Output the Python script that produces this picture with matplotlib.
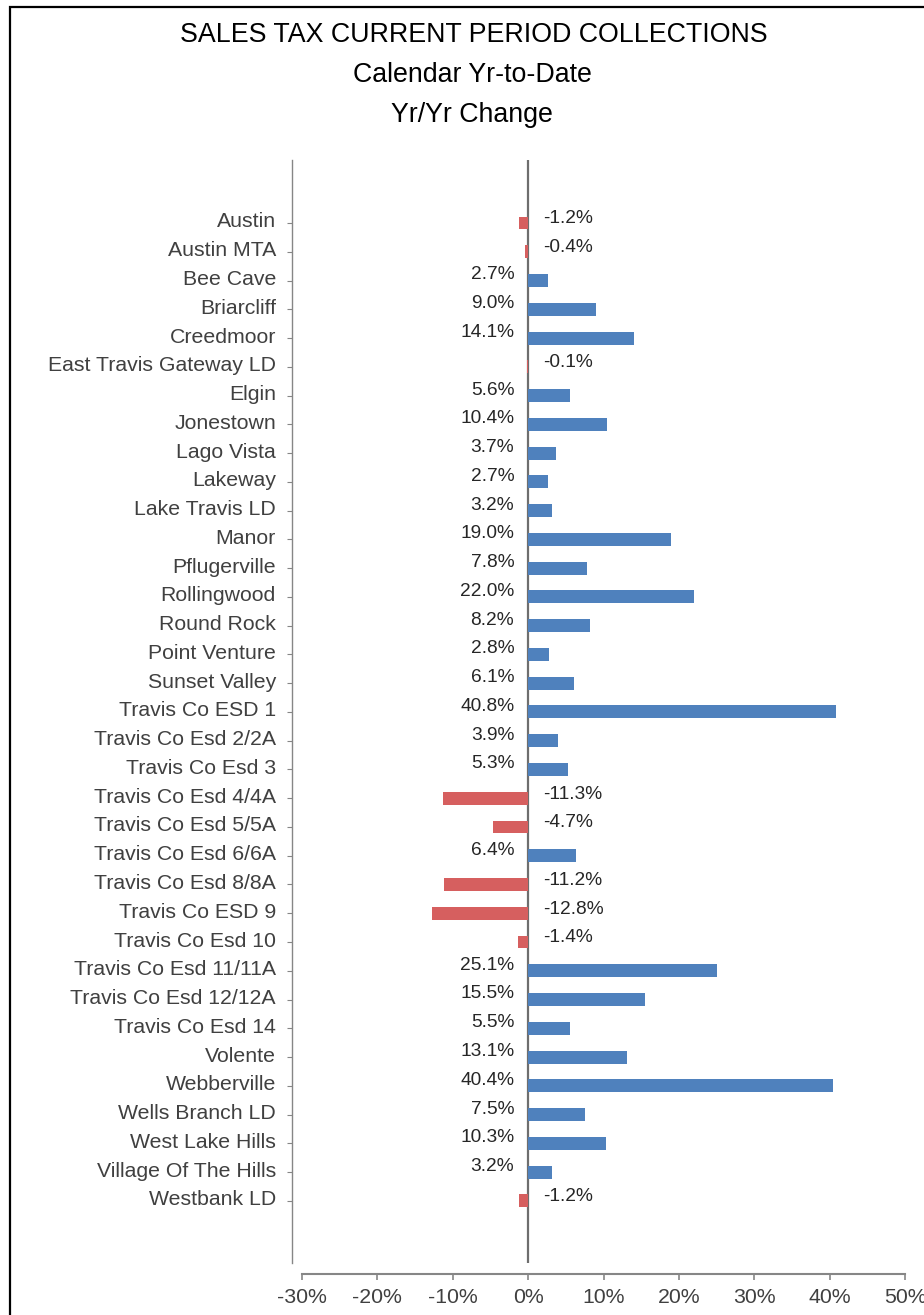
import numpy as np
import matplotlib
matplotlib.use("Agg")
import matplotlib.pyplot as plt
import matplotlib.transforms as mtransforms
from matplotlib.patches import Rectangle
from matplotlib.ticker import FuncFormatter

plt.rcParams["font.family"] = ["Liberation Sans", "DejaVu Sans"]

places = ["Austin", "Austin MTA", "Bee Cave", "Briarcliff", "Creedmoor",
          "East Travis Gateway LD", "Elgin", "Jonestown", "Lago Vista", "Lakeway",
          "Lake Travis LD", "Manor", "Pflugerville", "Rollingwood", "Round Rock",
          "Point Venture", "Sunset Valley", "Travis Co ESD 1", "Travis Co Esd 2/2A",
          "Travis Co Esd 3", "Travis Co Esd 4/4A", "Travis Co Esd 5/5A",
          "Travis Co Esd 6/6A", "Travis Co Esd 8/8A", "Travis Co ESD 9",
          "Travis Co Esd 10", "Travis Co Esd 11/11A", "Travis Co Esd 12/12A",
          "Travis Co Esd 14", "Volente", "Webberville", "Wells Branch LD",
          "West Lake Hills", "Village Of The Hills", "Westbank LD"]
change = [-1.2, -0.4, 2.7, 9.0, 14.1, -0.1, 5.6, 10.4, 3.7, 2.7,
          3.2, 19.0, 7.8, 22.0, 8.2, 2.8, 6.1, 40.8, 3.9, 5.3,
          -11.3, -4.7, 6.4, -11.2, -12.8, -1.4, 25.1, 15.5, 5.5, 13.1,
          40.4, 7.5, 10.3, 3.2, -1.2]
xticks = [-30, -20, -10, 0, 10, 20, 30, 40, 50]

blue = "#4F81BD"
red = "#D65F5F"
grey_txt = "#404040"
axis_col = "#868686"

W, H = 924, 1315
fig = plt.figure(figsize=(W / 100, H / 100), dpi=100)
fig.patches.append(Rectangle((10 / W, -0.1), 1.2, 1 - 7 / H + 0.1, transform=fig.transFigure,
                             fill=False, edgecolor="black", linewidth=1.6))

ax = fig.add_axes([302 / W, 52 / H, (905 - 302) / W, (1263 - 160) / H])
y = np.arange(len(places))
cols = [blue if v >= 0 else red for v in change]
ax.axvline(0, color="#6e6e6e", linewidth=1.6, zorder=2)
ax.barh(y, change, height=0.45, color=cols, zorder=3)

ax.set_xlim(-30, 50)
ax.set_ylim(len(places) - 1 + 2.16, -2.19)
ax.set_xticks(xticks)
ax.xaxis.set_major_formatter(FuncFormatter(lambda v, p: f"{v:.0f}%"))
ax.set_yticks(y)
ax.set_yticklabels(places)

for s in ["top", "right"]:
    ax.spines[s].set_visible(False)
ax.spines["left"].set_position(("outward", 7.2))
ax.spines["bottom"].set_position(("outward", 8))
ax.spines["left"].set_color(axis_col)
ax.spines["bottom"].set_color(axis_col)
ax.spines["left"].set_linewidth(1.0)
ax.spines["bottom"].set_linewidth(1.5)
ax.tick_params(axis="y", length=3.6, color=axis_col, labelsize=15.3, labelcolor=grey_txt, pad=8)
ax.tick_params(axis="x", length=4, width=1.2, color=axis_col, labelsize=15.3, labelcolor=grey_txt, pad=6)

shift = mtransforms.ScaledTranslation(0, 3 / 100, fig.dpi_scale_trans)
for lab in ax.get_yticklabels():
    lab.set_transform(lab.get_transform() + shift)

for yi, v in zip(y, change):
    if v >= 0:
        ax.annotate(f"{v:.1f}%", (0, yi), xytext=(-10, 4), textcoords="offset points",
                    ha="right", va="center", fontsize=13.8, color="#262626")
    else:
        ax.annotate(f"{v:.1f}%", (0, yi), xytext=(11, 3), textcoords="offset points",
                    ha="left", va="center", fontsize=13.8, color="#262626")

fig.text(474 / W, 1 - 35 / H, "SALES TAX CURRENT PERIOD COLLECTIONS", ha="center", va="center",
         fontsize=19.3, color="black")
fig.text(472 / W, 1 - 75 / H, "Calendar Yr-to-Date", ha="center", va="center",
         fontsize=19.3, color="black")
fig.text(472 / W, 1 - 115 / H, "Yr/Yr Change", ha="center", va="center",
         fontsize=19.3, color="black")

fig.savefig("out.png", dpi=100)
